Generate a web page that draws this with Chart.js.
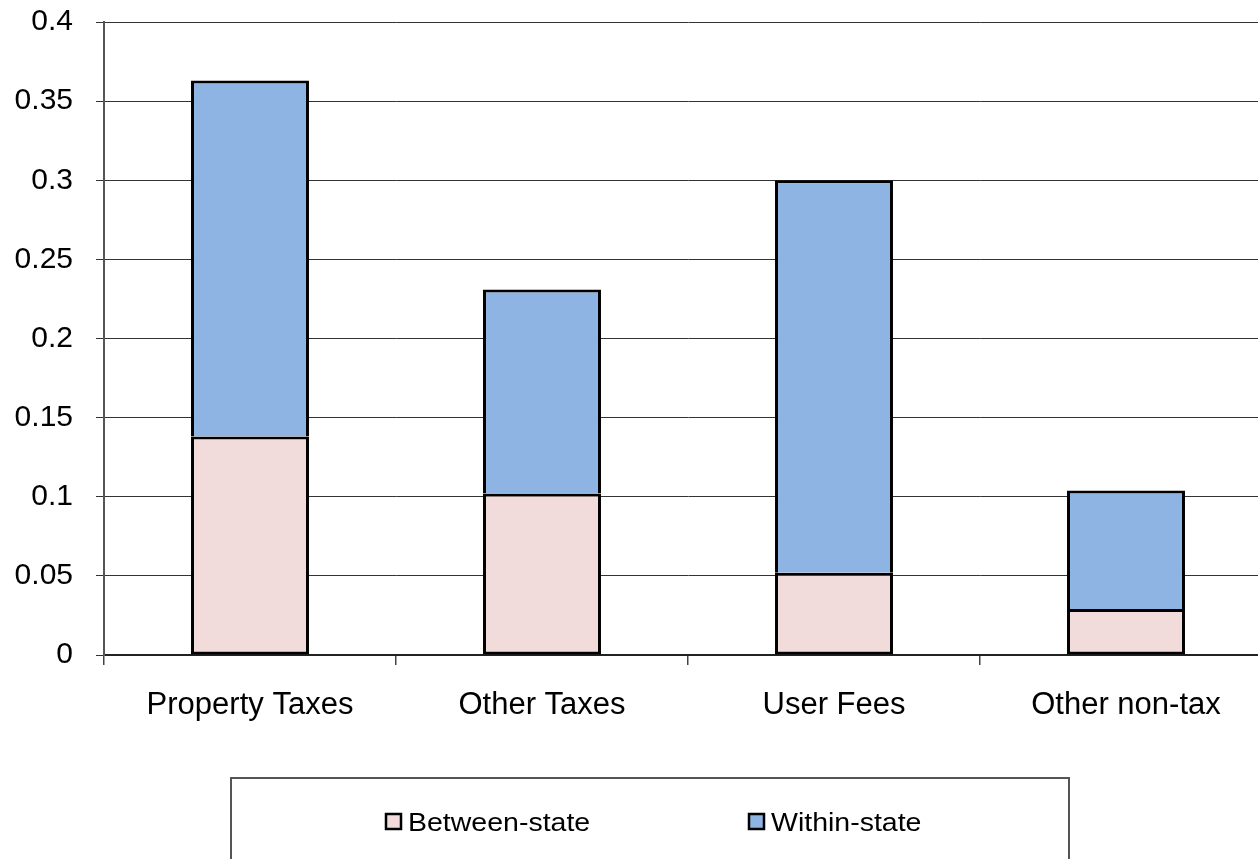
<!DOCTYPE html>
<html>
<head>
<meta charset="utf-8">
<title>Revenue variance decomposition</title>
<script src="https://cdn.jsdelivr.net/npm/chart.js@4.4.0/dist/chart.umd.min.js"></script>
<style>
  html, body { margin: 0; padding: 0; background: #fff; overflow: hidden; }
  #wrap { width: 1258px; height: 859px; overflow: hidden; }
</style>
</head>
<body>
<div id="wrap"><canvas id="chart" width="1280" height="859"></canvas></div>
<script>
var categories = ['Property Taxes', 'Other Taxes', 'User Fees', 'Other non-tax'];
var betweenState = [0.138, 0.102, 0.052, 0.029];
var withinState = [0.225, 0.129, 0.248, 0.075];
var yTicks = [0, 0.05, 0.1, 0.15, 0.2, 0.25, 0.3, 0.35, 0.4];

var FONT = '"Liberation Sans", Arial, sans-serif';

// boxed legend under the plot, drawn by hand so it can sit where we want
var boxLegend = {
  id: 'boxLegend',
  afterDraw: function (chart) {
    var ctx = chart.ctx;
    ctx.save();
    ctx.strokeStyle = '#555';
    ctx.lineWidth = 2;
    ctx.strokeRect(231, 778, 838, 120);

    var xs = [386, 749];
    chart.data.datasets.forEach(function (ds, i) {
      var x = xs[i];
      ctx.fillStyle = ds.backgroundColor;
      ctx.fillRect(x, 814, 15, 15);
      ctx.strokeStyle = '#000';
      ctx.lineWidth = 2.5;
      ctx.strokeRect(x, 814, 15, 15);

      ctx.translate(x + 22, 831);
      ctx.scale(1.14, 1);
      ctx.fillStyle = '#000';
      ctx.font = '25px ' + FONT;
      ctx.textBaseline = 'alphabetic';
      ctx.fillText(ds.label, 0, 0);
      ctx.setTransform(1, 0, 0, 1, 0, 0);
    });
    ctx.restore();
  }
};

var ctx = document.getElementById('chart').getContext('2d');
var myChart = new Chart(ctx, {
  type: 'bar',
  data: {
    labels: categories,
    datasets: [{
      label: 'Between-state',
      data: betweenState,
      backgroundColor: '#F2DCDB',
      borderColor: '#000',
      borderWidth: 3,
      borderSkipped: false
    }, {
      label: 'Within-state',
      data: withinState,
      backgroundColor: '#8EB4E3',
      borderColor: '#000',
      borderWidth: 3,
      borderSkipped: 'start'
    }]
  },
  options: {
    responsive: false,
    animation: false,
    layout: { padding: { top: 22, right: 8, bottom: 0, left: 0 } },
    plugins: {
      legend: { display: false },
      tooltip: { enabled: false }
    },
    datasets: {
      bar: { categoryPercentage: 1, barPercentage: 0.404 }
    },
    scales: {
      x: {
        stacked: true,
        afterFit: function (scale) { scale.height = 204; },
        grid: {
          drawOnChartArea: false,
          drawTicks: true,
          tickLength: 10,
          color: '#444',
          lineWidth: 1.5
        },
        border: { color: '#222', width: 2 },
        ticks: {
          color: '#000',
          padding: 22,
          maxRotation: 0,
          font: { family: FONT, size: 31 }
        }
      },
      y: {
        stacked: true,
        min: 0,
        max: 0.4,
        afterFit: function (scale) {
          scale.width = 104;
          scale.paddingTop = 0;
          scale.paddingBottom = 0;
        },
        afterBuildTicks: function (scale) {
          scale.ticks = yTicks.map(function (v) { return { value: v }; });
        },
        grid: {
          color: '#333',
          lineWidth: 1,
          tickLength: 8
        },
        border: { color: '#555', width: 2 },
        ticks: {
          color: '#000',
          padding: 23,
          font: { family: FONT, size: 30 },
          callback: function (v) { return String(+v.toFixed(2)); }
        }
      }
    }
  },
  plugins: [boxLegend]
});
</script>
</body>
</html>
